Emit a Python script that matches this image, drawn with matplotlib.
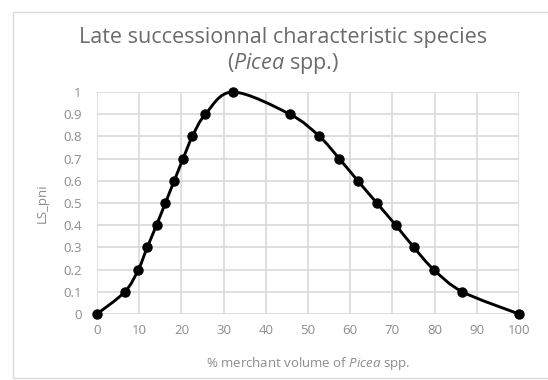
import matplotlib
matplotlib.use("Agg")
import matplotlib.pyplot as plt
from matplotlib.path import Path
from matplotlib.patches import PathPatch, Rectangle
import numpy as np

# % merchant volume of Picea spp. vs LS_pni
volume = [0, 6.6, 9.8, 11.9, 14.1, 16.2, 18.3, 20.4, 22.6, 25.7, 32.2,
          45.7, 52.7, 57.4, 61.8, 66.3, 70.8, 75.1, 79.8, 86.6, 100]
ls_pni = [0, 0.1, 0.2, 0.3, 0.4, 0.5, 0.6, 0.7, 0.8, 0.9, 1.0,
          0.9, 0.8, 0.7, 0.6, 0.5, 0.4, 0.3, 0.2, 0.1, 0]

x_ticks = list(range(0, 101, 10))
y_ticks = [0, 0.1, 0.2, 0.3, 0.4, 0.5, 0.6, 0.7, 0.8, 0.9, 1]
y_tick_labels = ["0", "0.1", "0.2", "0.3", "0.4", "0.5", "0.6", "0.7", "0.8", "0.9", "1"]

plt.rcParams['font.family'] = ['Open Sans', 'DejaVu Sans']
plt.rcParams['mathtext.fontset'] = 'custom'
plt.rcParams['mathtext.it'] = 'Open Sans:italic'
plt.rcParams['mathtext.rm'] = 'Open Sans'

fig = plt.figure(figsize=(5.48, 3.8), dpi=100)
ax = fig.add_axes([97 / 548, 66 / 380, 422 / 548, 222 / 380])

# chart border like the excel chart frame
fig.patches.append(Rectangle((13 / 548, 2 / 380), 1.0, 366 / 380, transform=fig.transFigure,
                             fill=False, edgecolor='#d9d9d9', linewidth=1.0))


def smooth_path(xs, ys, t=1 / 6):
    # excel-like smoothed line: catmull-rom segments as cubic beziers
    xs = np.asarray(xs, float)
    ys = np.asarray(ys, float)
    verts = [(xs[0], ys[0])]
    codes = [Path.MOVETO]
    n = len(xs)
    for i in range(n - 1):
        p0 = (xs[max(i - 1, 0)], ys[max(i - 1, 0)])
        p1 = (xs[i], ys[i])
        p2 = (xs[i + 1], ys[i + 1])
        p3 = (xs[min(i + 2, n - 1)], ys[min(i + 2, n - 1)])
        c1 = (p1[0] + (p2[0] - p0[0]) * t, p1[1] + (p2[1] - p0[1]) * t)
        c2 = (p2[0] - (p3[0] - p1[0]) * t, p2[1] - (p3[1] - p1[1]) * t)
        verts += [c1, c2, p2]
        codes += [Path.CURVE4] * 3
    return Path(verts, codes)


ax.add_patch(PathPatch(smooth_path(volume, ls_pni), fill=False, edgecolor='black',
                       linewidth=2.1, zorder=3, clip_on=False))
ax.plot(volume, ls_pni, 'o', color='black', markersize=6.5, zorder=4, clip_on=False)

ax.set_xlim(0, 100)
ax.set_ylim(0, 1)
ax.set_xticks(x_ticks)
ax.set_yticks(y_ticks)
ax.set_yticklabels(y_tick_labels)
ax.grid(True, color='#d9d9d9', linewidth=1.2)
ax.set_axisbelow(True)
for s in ax.spines.values():
    s.set_visible(False)
ax.tick_params(length=0, labelsize=9.5, labelcolor='#8c8c8c', pad=7)
ax.tick_params(axis='y', pad=11)

ax.set_xlabel('% merchant volume of $\\it{Picea}$ spp.', fontsize=9.5, color='#8c8c8c', labelpad=13)
ax.set_ylabel('LS_pni', fontsize=9.5, color='#8c8c8c', labelpad=10)

fig.text(283 / 548, 1 - 38 / 380, 'Late successionnal characteristic species',
         ha='center', va='center', fontsize=15.5, color='#6b6b6b')
fig.text(283 / 548, 1 - 63 / 380, '($\\it{Picea}$ spp.)',
         ha='center', va='center', fontsize=15.5, color='#6b6b6b')

fig.savefig('out.png', dpi=100)
